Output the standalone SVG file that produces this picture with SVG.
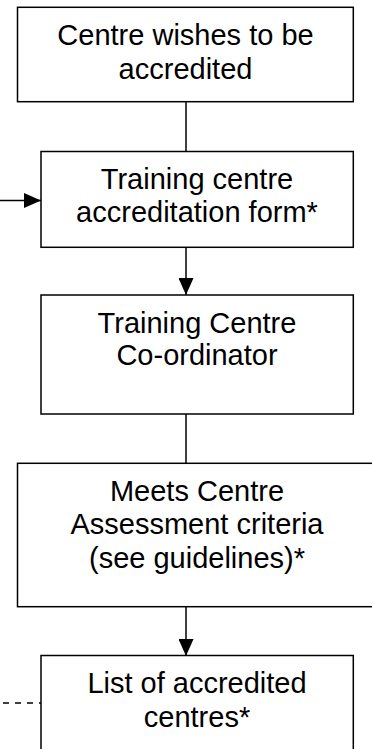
<svg xmlns="http://www.w3.org/2000/svg" width="372" height="749" viewBox="0 0 372 749">
  <style>
    .box { fill: #ffffff; stroke: #000000; stroke-width: 1.5; }
    .lbl { font-family: "Liberation Sans", Arial, sans-serif; font-size: 29px; fill: #000000; text-anchor: middle; }
    .conn { stroke: #000000; stroke-width: 1.5; fill: none; }
    .dash { stroke-dasharray: 6 6; }
  </style>
  <defs>
    <marker id="arrow" markerUnits="userSpaceOnUse" markerWidth="17" markerHeight="15" refX="17" refY="7.5" orient="auto">
      <path d="M0,0 L17,7.5 L0,15 Z" fill="#000000"/>
    </marker>
  </defs>
  <rect width="372" height="749" fill="#ffffff"/>

  <g id="connectors">
    <line class="conn" x1="186" y1="102" x2="186" y2="152"/>
    <line class="conn" x1="0" y1="200.5" x2="41" y2="200.5" marker-end="url(#arrow)"/>
    <line class="conn" x1="186" y1="247" x2="186" y2="295" marker-end="url(#arrow)"/>
    <line class="conn" x1="186" y1="414" x2="186" y2="463"/>
    <line class="conn" x1="186" y1="607" x2="186" y2="656" marker-end="url(#arrow)"/>
    <line class="conn dash" x1="3" y1="703" x2="41" y2="703"/>
  </g>

  <g id="node-wishes">
    <rect class="box" x="17.5" y="7.3" width="335.8" height="94.4"/>
    <text class="lbl" x="185.5" y="45">Centre wishes to be</text>
    <text class="lbl" x="185.5" y="78.5">accredited</text>
  </g>

  <g id="node-form">
    <rect class="box" x="41" y="151.5" width="312.3" height="95.8"/>
    <text class="lbl" x="197" y="189.3">Training centre</text>
    <text class="lbl" x="197" y="221.7">accreditation form*</text>
  </g>

  <g id="node-coordinator">
    <rect class="box" x="41" y="295" width="312.3" height="119"/>
    <text class="lbl" x="197" y="333.3">Training Centre</text>
    <text class="lbl" x="197" y="365">Co-ordinator</text>
  </g>

  <g id="node-criteria">
    <rect class="box" x="17.5" y="463.3" width="360" height="143.4"/>
    <text class="lbl" x="197" y="501">Meets Centre</text>
    <text class="lbl" x="197" y="534.3">Assessment criteria</text>
    <text class="lbl" x="197" y="568">(see guidelines)*</text>
  </g>

  <g id="node-list">
    <rect class="box" x="41" y="655.5" width="312.3" height="110"/>
    <text class="lbl" x="197" y="693.3">List of accredited</text>
    <text class="lbl" x="197" y="726.7">centres*</text>
  </g>
</svg>
